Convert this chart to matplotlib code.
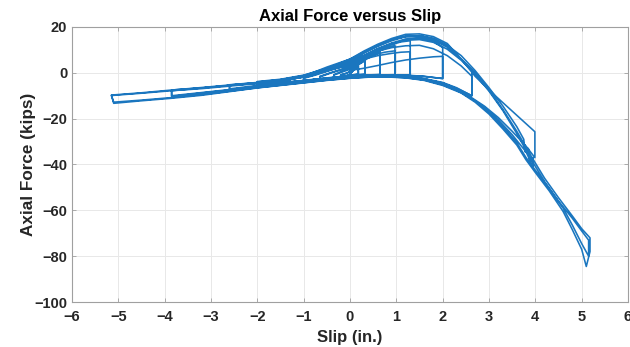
import numpy as np
import matplotlib
matplotlib.use("Agg")
import matplotlib.pyplot as plt

plt.rcParams['font.family'] = ['Liberation Sans', 'DejaVu Sans']

# ---- data (slip in., axial force kips), cycle by cycle ----
c1_slip = [0.00, 0.08, 0.18, 0.18, 0.05, -0.10, -0.20, -0.20, -0.08, 0.00]
c1_force = [-0.5, 1.2, 3.0, -0.6, -0.9, -1.3, -1.6, -0.9, -0.2, 0.5]

c2_slip = [0.00, 0.12, 0.22, 0.32, 0.32, 0.15, 0.00, -0.18, -0.35, -0.35, -0.15, 0.00]
c2_force = [0.5, 2.5, 4.0, 5.2, -0.7, -0.9, -1.1, -1.6, -2.0, -1.0, 0.5, 1.5]
c2b_force = [1.5, 3.2, 4.8, 6.0, -0.6, -0.8, -1.0, -1.5, -2.1, -0.8, 0.8, 2.0]

c3_slip = [0.00, 0.20, 0.40, 0.55, 0.65, 0.65, 0.40, 0.15, -0.15, -0.40, -0.65, -0.65, -0.40, -0.20, 0.00]
c3_force = [1.5, 4.0, 6.5, 8.0, 9.0, -0.8, -1.0, -1.1, -1.6, -2.2, -2.8, -1.5, 0.2, 1.5, 3.0]
c3b_force = [3.0, 5.5, 7.8, 9.2, 10.2, -0.7, -0.9, -1.2, -1.7, -2.3, -3.0, -1.8, 0.0, 1.2, 2.5]

c4_slip = [0.00, 0.25, 0.50, 0.75, 0.97, 0.97, 0.70, 0.40, 0.10, -0.20, -0.50, -0.80, -1.00, -1.00, -0.75, -0.50, -0.25, 0.00]
c4_force = [2.5, 5.5, 8.3, 10.5, 12.0, -0.9, -0.9, -1.0, -1.2, -1.7, -2.4, -3.0, -3.5, -2.2, -0.8, 1.0, 2.8, 4.0]
c4b_force = [4.0, 6.0, 7.8, 9.0, 9.6, -0.8, -0.9, -1.1, -1.3, -1.8, -2.5, -3.1, -3.7, -2.4, -1.0, 0.6, 2.2, 3.5]

c5_slip = [0.0, 0.3, 0.6, 0.9, 1.1, 1.3, 1.3, 1.0, 0.6, 0.2, -0.2, -0.6, -1.0, -1.3, -1.3, -1.0, -0.6, -0.3, 0.0]
c5_force = [3.5, 7.0, 10.0, 12.3, 13.5, 14.0, -1.0, -0.9, -1.0, -1.2, -1.8, -2.6, -3.4, -4.0, -2.8, -1.5, 0.5, 2.5, 4.0]
c5b_force = [4.0, 6.0, 7.5, 8.5, 9.0, 9.2, -1.0, -1.0, -1.1, -1.3, -1.9, -2.7, -3.5, -4.2, -3.0, -1.7, 0.2, 2.0, 3.5]

c6_slip = [0.0, 0.3, 0.6, 0.9, 1.2, 1.5, 1.8, 2.0, 2.0, 1.6, 1.2, 0.8, 0.4, 0.0, -0.5, -1.0, -1.5, -2.0, -2.0, -1.5, -1.0, -0.5, 0.0]
c6_force = [3.5, 7.5, 10.5, 13.0, 14.8, 15.2, 13.8, 11.0, -2.5, -1.5, -1.0, -0.9, -1.0, -1.3, -2.2, -3.3, -4.3, -5.3, -3.8, -2.8, -1.0, 2.0, 5.0]
c6b_force = [1.0, 2.0, 3.2, 4.5, 5.6, 6.4, 7.0, 7.2, -2.5, -1.6, -1.1, -1.0, -1.1, -1.4, -2.3, -3.4, -4.4, -5.5, -4.0, -3.0, -1.3, 1.5, 4.5]

c7_slip = [0.0, 0.3, 0.6, 0.9, 1.2, 1.5, 1.8, 2.1, 2.4, 2.63, 2.63, 2.3, 2.0, 1.6, 1.2, 0.8, 0.4, 0.0,
           -0.5, -1.0, -1.5, -2.0, -2.6, -2.6, -2.0, -1.5, -1.0, -0.5, 0.0]
c7_force = [5.0, 8.5, 11.5, 14.0, 15.8, 16.2, 14.8, 11.5, 6.0, 1.0, -10.0, -6.5, -4.2, -2.5, -1.5, -1.1, -1.2, -1.5,
            -2.4, -3.5, -4.5, -5.5, -7.0, -5.2, -4.2, -3.0, -1.2, 2.0, 5.5]
c7b_force = [5.5, 7.5, 9.5, 11.0, 11.8, 12.0, 10.5, 7.5, 3.0, -1.5, -10.0, -6.8, -4.4, -2.7, -1.7, -1.3, -1.3, -1.7,
             -2.6, -3.7, -4.7, -5.8, -7.3, -5.4, -4.4, -3.2, -1.4, 1.8, 6.0]

c8_slip = [0.0, 0.3, 0.6, 0.9, 1.2, 1.5, 1.8, 2.1, 2.4, 2.7, 3.0, 3.3, 3.6, 3.99, 3.99,
           3.8, 3.5, 3.2, 2.9, 2.6, 2.3, 2.0, 1.6, 1.2, 0.8, 0.4, 0.0, -0.5, -1.0, -1.5, -2.0, -2.6, -3.2, -3.85,
           -3.85, -3.2, -2.6, -2.0, -1.5, -1.0, -0.5, 0.0]
c8_force = [6.0, 9.5, 12.5, 15.0, 16.8, 17.0, 15.8, 12.8, 6.0, -1.5, -7.5, -13.0, -18.5, -25.7, -37.0,
            -32.0, -25.5, -19.5, -14.5, -10.5, -7.0, -4.5, -2.6, -1.6, -1.2, -1.3, -1.7, -2.6, -3.8, -4.8, -5.9, -7.3, -8.6, -10.0,
            -7.5, -6.6, -5.5, -4.5, -3.5, -1.5, 2.5, 6.0]
c8b_slip = [0.0, 0.3, 0.6, 0.9, 1.2, 1.5, 1.8, 2.1, 2.4, 2.7, 3.0, 3.3, 3.6, 3.75, 3.78, 3.85, 3.88, 3.95, 3.95,
            3.8, 3.5, 3.2, 2.9, 2.6, 2.3, 2.0, 1.6, 1.2, 0.8, 0.4, 0.0, -0.5, -1.0, -1.5, -2.0, -2.6, -3.2, -3.85,
            -3.85, -3.2, -2.6, -2.0, -1.5, -1.0, -0.5, 0.0]
c8b_force = [6.0, 9.0, 12.0, 14.5, 16.0, 16.2, 15.0, 12.0, 7.5, 1.0, -6.5, -14.5, -23.5, -29.0, -34.5, -33.0, -38.5, -37.0, -41.0,
             -34.5, -27.0, -20.5, -15.0, -11.0, -7.5, -4.8, -2.8, -1.8, -1.4, -1.5, -1.9, -2.8, -4.0, -5.0, -6.1, -7.5, -8.8, -10.3,
             -7.8, -6.9, -5.8, -4.7, -3.7, -1.8, 2.0, 5.5]

c9_slip = [0.0, 0.3, 0.6, 0.9, 1.2, 1.5, 1.8, 2.1, 2.4, 2.7, 3.0, 3.3, 3.6, 3.9, 4.2, 4.5, 4.8, 5.0, 5.18, 5.18, 5.1,
           5.0, 4.8, 4.6, 4.3, 4.0, 3.8, 3.6, 3.3, 3.0, 2.7, 2.4, 2.0, 1.6, 1.2, 0.8, 0.4, 0.0, -0.5, -1.0, -1.5, -2.0,
           -2.6, -3.2, -3.85, -4.5, -5.1, -5.15, -4.5, -3.85, -3.2, -2.6, -2.0, -1.5, -1.0, -0.5, 0.0]
c9_force = [5.5, 9.0, 12.0, 14.5, 15.8, 15.8, 14.2, 11.2, 6.0, 0.0, -7.5, -16.0, -25.5, -36.0, -46.0, -54.5, -62.5, -68.0, -72.0, -78.0, -84.5,
            -77.0, -68.5, -60.5, -51.5, -43.5, -38.0, -31.5, -24.5, -18.0, -12.8, -8.8, -5.5, -3.3, -2.2, -1.8, -1.9, -2.4, -3.3, -4.4, -5.5, -6.6,
            -8.2, -9.8, -11.1, -12.2, -13.3, -9.7, -8.7, -7.5, -6.4, -5.3, -4.3, -3.2, -1.6, 1.5, 4.5]
c9b_slip = [0.0, 0.3, 0.6, 0.9, 1.2, 1.5, 1.8, 2.1, 2.4, 2.7, 3.0, 3.3, 3.6, 3.9, 4.2, 4.5, 4.8, 5.0, 5.15, 5.15,
            5.0, 4.8, 4.6, 4.3, 4.0, 3.8, 3.6, 3.3, 3.0, 2.7, 2.4, 2.0, 1.6, 1.2, 0.8, 0.4, 0.0, -0.5, -1.0, -1.5, -2.0,
            -2.6, -3.2, -3.85, -4.5, -5.1, -5.15, -4.5, -3.85, -3.2, -2.6, -2.0, -1.5, -1.0, -0.5, 0.0]
c9b_force = [4.5, 7.5, 10.5, 12.8, 14.2, 14.5, 13.3, 10.3, 5.5, -0.5, -8.0, -16.5, -26.5, -37.5, -47.5, -56.0, -63.5, -69.0, -73.0, -80.0,
             -74.5, -66.5, -59.0, -50.5, -42.5, -37.0, -30.5, -23.5, -17.2, -12.2, -8.5, -5.2, -3.1, -2.1, -1.7, -1.8, -2.3, -3.2, -4.3, -5.4, -6.5,
             -8.0, -9.5, -10.8, -11.9, -12.8, -9.9, -8.9, -7.8, -6.6, -5.5, -4.5, -3.4, -1.9, 1.0, 3.5]

cycles = [
    (c1_slip, c1_force), (c1_slip, c1_force),
    (c2_slip, c2_force), (c2_slip, c2b_force),
    (c3_slip, c3_force), (c3_slip, c3b_force),
    (c4_slip, c4_force), (c4_slip, c4b_force),
    (c5_slip, c5_force), (c5_slip, c5b_force),
    (c6_slip, c6_force), (c6_slip, c6b_force),
    (c7_slip, c7_force), (c7_slip, c7b_force),
    (c8_slip, c8_force), (c8b_slip, c8b_force),
    (c9_slip, c9_force), (c9b_slip, c9b_force),
]

slip = np.concatenate([np.asarray(s, float) for s, f in cycles])
force = np.concatenate([np.asarray(f, float) for s, f in cycles])

x_ticks = [-6, -5, -4, -3, -2, -1, 0, 1, 2, 3, 4, 5, 6]
y_ticks = [-100, -80, -60, -40, -20, 0, 20]

# ---- figure ----
fig = plt.figure(figsize=(6.30, 3.47), dpi=100)
ax = fig.add_axes([72/630, 1 - 302/347, (628 - 72)/630, (302 - 27)/347])

ax.plot(slip, force, color='#1a76bf', lw=1.15)

ax.set_xlim(-6, 6)
ax.set_ylim(-100, 20)
ax.set_xticks(x_ticks)
ax.set_yticks(y_ticks)
ax.grid(True, color='#e8e8e8', lw=0.7)
ax.set_axisbelow(True)

axc = '#262626'
for sp in ax.spines.values():
    sp.set_color('#a0a0a0')
    sp.set_linewidth(0.8)
ax.tick_params(direction='in', length=3, width=0.6, colors='#a0a0a0',
               labelcolor=axc, labelsize=10.5, top=True, right=True)
ax.tick_params(axis='x', pad=6)
for lab in ax.get_xticklabels() + ax.get_yticklabels():
    lab.set_fontweight('bold')

ax.set_title('Axial Force versus Slip', fontsize=12, fontweight='bold', color='black', pad=4)
ax.set_xlabel('Slip (in.)', fontsize=12, fontweight='bold', color=axc, labelpad=4)
ax.set_ylabel('Axial Force (kips)', fontsize=12.3, fontweight='bold', color=axc, labelpad=-1)

fig.savefig('out.png', dpi=100)
